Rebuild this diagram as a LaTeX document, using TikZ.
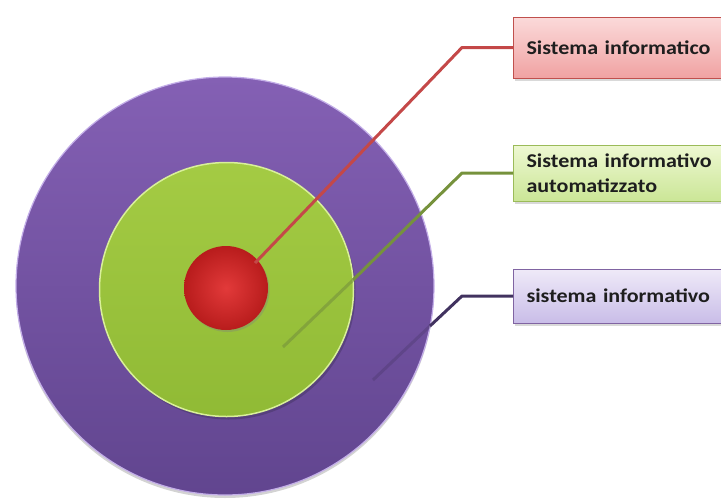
\documentclass[tikz,border=0pt]{standalone}
\usepackage{fontspec}
\setmainfont{Carlito}
\newfontfamily\lblfont[FakeStretch=1.13, WordSpace=0.55]{Carlito}
\usetikzlibrary{shadows}
\definecolor{purT}{HTML}{8460B4}
\definecolor{purB}{HTML}{61458F}
\definecolor{purRim}{HTML}{C3AEE8}
\definecolor{grnT}{HTML}{A4CB44}
\definecolor{grnB}{HTML}{90BA35}
\definecolor{grnRim}{HTML}{D9F09A}
\definecolor{redIn}{HTML}{E23A3A}
\definecolor{redOut}{HTML}{B81C1C}
\definecolor{redLn}{HTML}{C44848}
\definecolor{grnLn}{HTML}{76923C}
\definecolor{purLn}{HTML}{41325F}
\definecolor{rboxT}{HTML}{FBDADA}
\definecolor{rboxB}{HTML}{F0A2A2}
\definecolor{rboxD}{HTML}{C0504D}
\definecolor{gboxT}{HTML}{EEF8D2}
\definecolor{gboxB}{HTML}{CBE697}
\definecolor{gboxD}{HTML}{9BBB59}
\definecolor{pboxT}{HTML}{EFEAF8}
\definecolor{pboxB}{HTML}{C9BDE8}
\definecolor{pboxD}{HTML}{8064A2}
\definecolor{txt}{HTML}{1E1E1E}
\begin{document}
\begin{tikzpicture}[x=1pt,y=-1pt,
  lbl/.style={line width=1pt, anchor=west, text width=222pt, inner xsep=13pt, inner ysep=0pt,
    align=left, font=\lblfont\fontsize{19.5}{24.5}\selectfont\bfseries, text=txt,
    drop shadow={shadow xshift=1.5pt, shadow yshift=-2.5pt, opacity=0.3}},
  conn/.style={line width=3pt, line join=round}]
\useasboundingbox (0,0) rectangle (721,499);
\clip (0,0) rectangle (721,499);
% circles
\node[circle, minimum size=418pt, inner sep=0pt, top color=purT, bottom color=purB,
  draw=purRim, line width=1.2pt,
  drop shadow={shadow xshift=0pt, shadow yshift=-3pt, opacity=0.35}] (outer) at (225,286) {};
\node[circle, minimum size=254pt, inner sep=0pt, top color=grnT, bottom color=grnB,
  draw=grnRim, line width=1.5pt,
  drop shadow={shadow xshift=2pt, shadow yshift=-3pt, opacity=0.45, fill=purLn}] (middle) at (226.5,289.5) {};
\node[circle, minimum size=84pt, inner sep=0pt, inner color=redIn, outer color=redOut,
  drop shadow={shadow xshift=1.5pt, shadow yshift=-2pt, opacity=0.35}] (inner) at (226,288) {};
% label boxes
\node[lbl, minimum height=61pt, draw=rboxD, top color=rboxT, bottom color=rboxB] (rbox) at (513,47.5) {Sistema informatico};
\node[lbl, minimum height=56pt, draw=gboxD, top color=gboxT, bottom color=gboxB] (gbox) at (513,173) {Sistema informativo\\automatizzato};
\node[lbl, minimum height=54pt, draw=pboxD, top color=pboxT, bottom color=pboxB] (pbox) at (513,296) {sistema informativo};
% connector points
\coordinate (rEnd) at (255,263);
\coordinate (rBend) at (462,47.5);
\coordinate (gEnd) at (283,347);
\coordinate (gEdge) at (353,280);
\coordinate (gBend) at (462,173);
\coordinate (pEnd) at (373,380);
\coordinate (pEdge) at (430,326);
\coordinate (pBend) at (462,296);
% connectors
\draw[conn, purLn, opacity=0.3] (pEnd) -- (pEdge);
\draw[conn, purLn] (pEdge) -- (pBend) -- (pbox.west);
\draw[conn, grnLn, opacity=0.6] (gEnd) -- (gEdge);
\draw[conn, grnLn] (gEdge) -- (gBend) -- (gbox.west);
\draw[conn, redLn] (rEnd) -- (rBend) -- (rbox.west);
\end{tikzpicture}
\end{document}
